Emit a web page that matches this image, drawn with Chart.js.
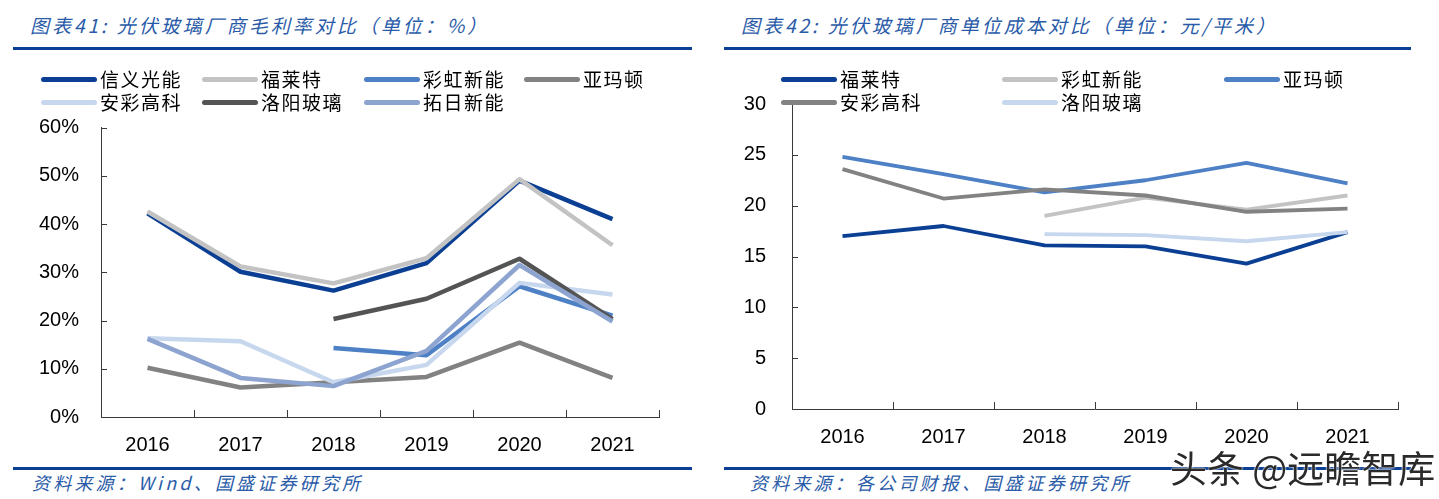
<!DOCTYPE html>
<html><head><meta charset="utf-8">
<script src="https://cdn.jsdelivr.net/npm/chart.js@4.4.0/dist/chart.umd.min.js"></script>
<style>
html,body{margin:0;padding:0;background:#fff}
body{width:1439px;height:499px;position:relative;overflow:hidden;font-family:"Liberation Sans",Arial,sans-serif}
.abs{position:absolute}
.title{font-family:"Noto Sans CJK SC",sans-serif;font-style:italic;color:#2A5BA8;font-size:19px;letter-spacing:3px;white-space:nowrap;line-height:1}
.rule{height:3px;background:#0B3F94}
.src{font-family:"Noto Sans CJK SC",sans-serif;font-style:italic;color:#2A5BA8;font-size:18px;letter-spacing:3.2px;white-space:nowrap;line-height:1}
.legline{height:5px;border-radius:2.5px}
.legtxt{font-family:"Noto Sans CJK SC",sans-serif;font-size:19px;letter-spacing:1.5px;color:#000;white-space:nowrap;line-height:1}
.wm{font-family:"Noto Sans CJK SC",sans-serif;font-size:37px;color:#2a2a2a;white-space:nowrap;line-height:1;text-shadow:0 0 2px #fff,0 0 2px #fff}
</style></head>
<body>
<div class="abs title" style="left:30px;top:15px">图表41: 光伏玻璃厂商毛利率对比（单位：%）</div>
<div class="abs title" style="left:741px;top:15px">图表42: 光伏玻璃厂商单位成本对比（单位：元/平米）</div>
<div class="abs rule" style="left:13px;top:47px;width:679px"></div>
<div class="abs rule" style="left:724px;top:47px;width:687px"></div>
<div class="abs rule" style="left:13px;top:467px;width:679px"></div>
<div class="abs rule" style="left:724px;top:467px;width:687px"></div>
<div class="abs src" style="left:32px;top:473px">资料来源：Wind、国盛证券研究所</div>
<div class="abs src" style="left:750px;top:473px">资料来源：各公司财报、国盛证券研究所</div>

<div class="abs" style="left:0;top:0;width:700px;height:499px"><canvas id="c1"></canvas></div>
<div class="abs" style="left:700px;top:0;width:739px;height:499px"><canvas id="c2"></canvas></div>
<div id="legends"></div>
<div class="abs wm" style="left:1170px;top:449px">头条 @远瞻智库</div>

<script>
// ---- data ----
const years = ['2016','2017','2018','2019','2020','2021'];

// Chart 41: gross margin (%)
const marginNames = ['信义光能','福莱特','彩虹新能','亚玛顿','安彩高科','洛阳玻璃','拓日新能'];
const mXinyi   = [42.2, 30.1, 26.2, 31.9, 49.0, 41.0];
const mFlat    = [42.6, 31.2, 27.7, 32.9, 49.3, 35.6];
const mCaihong = [null, null, 14.3, 12.8, 27.1, 21.0];
const mAlmaden = [10.2, 6.1, 7.2, 8.3, 15.4, 8.1];
const mAncai   = [16.3, 15.7, 7.2, 10.8, 27.8, 25.4];
const mLuoyang = [null, null, 20.3, 24.5, 32.8, 20.3];
const mTuori   = [16.2, 8.1, 6.4, 13.7, 31.5, 19.8];
const marginTicks = [0, 10, 20, 30, 40, 50, 60];

// Chart 42: unit cost (元/平米)
const costNames = ['福莱特','彩虹新能','亚玛顿','安彩高科','洛阳玻璃'];
const cFlat    = [17.0, 18.0, 16.1, 16.0, 14.3, 17.4];
const cCaihong = [null, null, 19.0, 20.8, 19.6, 21.0];
const cAlmaden = [24.8, 23.1, 21.3, 22.5, 24.2, 22.2];
const cAncai   = [23.6, 20.7, 21.6, 21.0, 19.4, 19.7];
const cLuoyang = [null, null, 17.2, 17.1, 16.5, 17.4];
const costTicks = [0, 5, 10, 15, 20, 25, 30];

// ---- styles ----
const C = {navy:'#0B3F94', lgray:'#C3C3C3', mblue:'#4D80C4', gray:'#828282', lblue:'#C6D7EE', dgray:'#545454', bgray:'#8CA4CF'};
const marginColors = [C.navy, C.lgray, C.mblue, C.gray, C.lblue, C.dgray, C.bgray];
const costColors = [C.navy, C.lgray, C.mblue, C.gray, C.lblue];

Chart.defaults.devicePixelRatio = 1;

const innerTicks = {
  id: 'innerTicks',
  afterDraw(chart) {
    const {ctx} = chart; const xs = chart.scales.x, ys = chart.scales.y;
    ctx.save(); ctx.strokeStyle = '#3a3a3a'; ctx.lineWidth = 1; ctx.beginPath();
    const n = xs.getLabels().length;
    for (let i = 0; i <= n; i++) {
      const px = Math.round(xs.getPixelForValue(i - 0.5)) + 0.5;
      ctx.moveTo(px, ys.bottom); ctx.lineTo(px, ys.bottom - 7);
    }
    ys.ticks.forEach(t => {
      const py = Math.round(ys.getPixelForValue(t.value)) + 0.5;
      ctx.moveTo(xs.left, py); ctx.lineTo(xs.left + 6, py);
    });
    ctx.stroke(); ctx.restore();
  }
};

function makeChart(id, series, names, colors, ticks, fmt, geo) {
  const n = series.length;
  return new Chart(document.getElementById(id), {
    type: 'line',
    data: {
      labels: years,
      datasets: series.map((d, i) => ({
        label: names[i], data: d, borderColor: colors[i], backgroundColor: colors[i],
        borderWidth: geo.lw, pointRadius: 0, tension: 0, spanGaps: false, order: n - i,
        borderCapStyle: 'butt', borderJoinStyle: 'round'
      }))
    },
    options: {
      responsive: true, maintainAspectRatio: false, animation: false,
      layout: {padding: {top: geo.top, right: geo.right, left: 0, bottom: 0}},
      plugins: {legend: {display: false}, tooltip: {enabled: false}},
      scales: {
        x: {
          offset: true,
          grid: {display: true, drawOnChartArea: false, drawTicks: false},
          border: {display: true, color: '#3a3a3a', width: 1},
          ticks: {color: '#000', font: {family: 'Liberation Sans', size: 20}, padding: 16, maxRotation: 0},
          afterFit: s => { s.height = geo.xh; }
        },
        y: {
          min: ticks[0], max: ticks[ticks.length - 1],
          afterBuildTicks: s => { s.ticks = ticks.map(v => ({value: v})); },
          grid: {display: true, drawOnChartArea: false, drawTicks: false},
          border: {display: true, color: '#3a3a3a', width: 1},
          ticks: {color: '#000', font: {family: 'Liberation Sans', size: 20}, padding: geo.ypad, callback: fmt},
          afterFit: s => { s.width = geo.yw; }
        }
      }
    },
    plugins: [innerTicks]
  });
}

makeChart('c1', [mXinyi, mFlat, mCaihong, mAlmaden, mAncai, mLuoyang, mTuori], marginNames, marginColors,
  marginTicks, v => v + '%', {lw: 4.5, top: 127.5, right: 41, xh: 82, yw: 101, ypad: 22});
makeChart('c2', [cFlat, cCaihong, cAlmaden, cAncai, cLuoyang], costNames, costColors,
  costTicks, v => String(v), {lw: 3.8, top: 104, right: 41, xh: 90, yw: 92, ypad: 26});

// ---- legends (HTML, built from the series names/colors) ----
function legend(names, colors, cols, rows) {
  let h = '';
  names.forEach((nm, i) => {
    const c = cols[i % cols.length], r = rows[Math.floor(i / cols.length)];
    h += `<div class="abs legline" style="left:${c}px;top:${r - 2.5}px;width:56px;background:${colors[i]}"></div>`;
    h += `<div class="abs legtxt" style="left:${c + 59}px;top:${r - 10}px">${nm}</div>`;
  });
  return h;
}
document.getElementById('legends').innerHTML =
  legend(marginNames, marginColors, [41, 202, 364, 524], [79, 102]) +
  legend(costNames, costColors, [781, 1002, 1224], [79, 102]);
</script>
</body></html>
